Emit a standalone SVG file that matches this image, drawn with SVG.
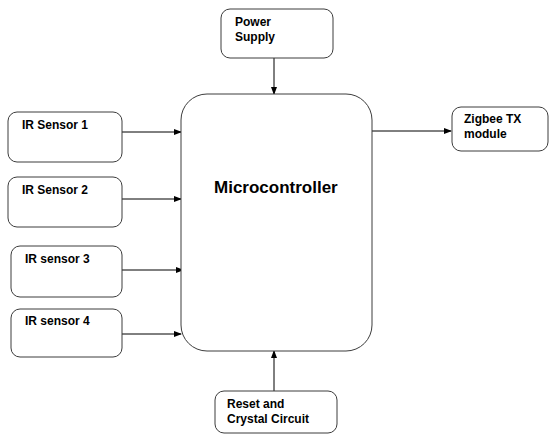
<svg xmlns="http://www.w3.org/2000/svg" width="550" height="435" viewBox="0 0 550 435">
<style>
.box{fill:#fff;stroke:#3c3c3c;stroke-width:1}
.lbl{font-family:"Liberation Sans",Arial,sans-serif;font-weight:bold;font-size:12px;fill:#000}
.big{font-family:"Liberation Sans",Arial,sans-serif;font-weight:bold;font-size:17px;fill:#000}
.con{stroke:#000;stroke-width:1;fill:none;marker-end:url(#ah)}
</style>
<defs>
<marker id="ah" markerWidth="8" markerHeight="6" refX="7" refY="3" orient="auto" markerUnits="userSpaceOnUse">
<path d="M0,0 L8,3 L0,6 Z" fill="#000"/>
</marker>
</defs>
<rect width="550" height="435" fill="#fff"/>
<g id="connectors">
<line class="con" x1="274" y1="58" x2="274" y2="94"/>
<line class="con" x1="274" y1="391" x2="274" y2="351"/>
<line class="con" x1="372" y1="131" x2="451" y2="131"/>
<line class="con" x1="122" y1="132" x2="181" y2="132"/>
<line class="con" x1="122" y1="199" x2="181" y2="199"/>
<line class="con" x1="122" y1="270" x2="183" y2="270"/>
<line class="con" x1="118" y1="334" x2="181" y2="334"/>
</g>
<g id="microcontroller">
<rect class="box" x="181" y="94" width="191" height="257" rx="26" ry="26"/>
<text class="big" x="214" y="193">Microcontroller</text>
</g>
<g id="power">
<rect class="box" x="221" y="9" width="112" height="49" rx="9" ry="9"/>
<text class="lbl" x="235" y="26">Power</text>
<text class="lbl" x="235" y="41">Supply</text>
</g>
<g id="zigbee">
<rect class="box" x="452" y="107" width="96" height="44" rx="9" ry="9"/>
<text class="lbl" x="464" y="123">Zigbee TX</text>
<text class="lbl" x="464" y="138">module</text>
</g>
<g id="reset">
<rect class="box" x="215" y="391" width="122" height="42" rx="9" ry="9"/>
<text class="lbl" x="227" y="408">Reset and</text>
<text class="lbl" x="227" y="423">Crystal Circuit</text>
</g>
<g id="ir1">
<rect class="box" x="8" y="112" width="114" height="50" rx="9" ry="9"/>
<text class="lbl" x="22" y="129">IR Sensor 1</text>
</g>
<g id="ir2">
<rect class="box" x="8" y="177" width="114" height="50" rx="9" ry="9"/>
<text class="lbl" x="22" y="194">IR Sensor 2</text>
</g>
<g id="ir3">
<rect class="box" x="11" y="246" width="111" height="51" rx="9" ry="9"/>
<text class="lbl" x="25" y="263">IR sensor 3</text>
</g>
<g id="ir4">
<rect class="box" x="11" y="309" width="111" height="48" rx="9" ry="9"/>
<text class="lbl" x="25" y="325">IR sensor 4</text>
</g>
</svg>
